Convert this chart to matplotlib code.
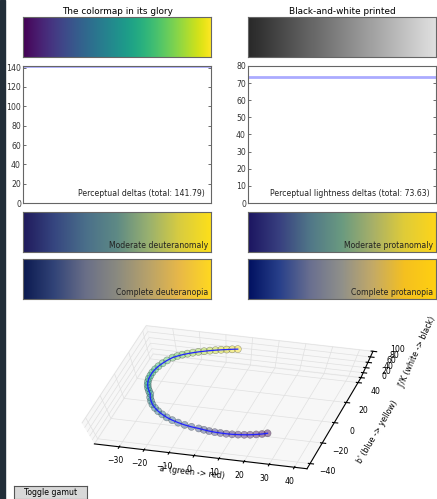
import matplotlib
matplotlib.use('Agg')
import matplotlib.pyplot as plt
import numpy as np
from matplotlib.colors import LinearSegmentedColormap
from matplotlib.patches import Rectangle
from matplotlib.widgets import Button
from mpl_toolkits.mplot3d import Axes3D  # noqa: F401

# --- Data ---
perceptual_total = 141.79
lightness_total = 73.63

gray_stops = ['#282828', '#e0e0e0']
deuteranomaly_stops = ['#201a5c', '#364680', '#4a6f8a', '#5e8a85', '#98b070', '#d8cc40', '#fddf1a']
protanomaly_stops = ['#1c1560', '#384080', '#517888', '#6a9a80', '#a8b068', '#e0cc38', '#fdd51a']
deuteranopia_stops = ['#0c1a50', '#324478', '#6a6f88', '#8a8a80', '#b8a26a', '#e8b848', '#ffd820']
protanopia_stops = ['#001060', '#28408a', '#6a7090', '#90908a', '#c4aa66', '#f5c020', '#ffd010']

Jp = [20.5, 22.0, 23.6, 25.1, 26.6, 28.2, 29.7, 31.2, 32.8, 34.3, 35.8, 37.4, 38.9,
      40.4, 42.0, 43.5, 45.0, 46.6, 48.1, 49.6, 51.2, 52.7, 54.2, 55.8, 57.3, 58.8,
      60.4, 61.9, 63.4, 65.0, 66.5, 68.0, 69.6, 71.1, 72.6, 74.2, 75.7, 77.2, 78.8,
      80.3, 81.8, 83.4, 84.9, 86.4, 88.0, 89.5, 91.0, 92.6, 94.1]
ap = [23.0, 21.2, 19.2, 17.1, 15.0, 12.8, 10.6, 8.4, 6.2, 4.0, 1.8, -0.3, -2.4,
      -5.3, -8.1, -10.9, -13.5, -16.0, -18.2, -20.3, -22.1, -23.7, -24.9, -25.9, -26.6, -27.6,
      -28.5, -29.2, -29.7, -30.0, -30.0, -29.9, -29.5, -28.9, -28.0, -26.9, -25.5, -24.0, -22.4,
      -20.7, -18.9, -17.0, -15.0, -13.0, -11.0, -9.0, -7.0, -5.0, -3.0]
bp = [-20.7, -22.2, -23.5, -24.7, -25.6, -26.4, -27.0, -27.4, -27.6, -27.7, -27.6, -27.3, -26.9,
      -26.5, -25.8, -24.7, -23.4, -21.8, -19.9, -17.8, -15.5, -13.0, -10.3, -7.6, -4.7, -2.6,
      -0.4, 1.9, 4.3, 6.9, 9.5, 12.1, 14.8, 17.5, 20.2, 22.8, 25.5, 27.0, 28.3,
      29.4, 30.4, 31.3, 32.1, 32.8, 33.4, 33.9, 34.3, 34.7, 35.0]

a_ticks = [-30, -20, -10, 0, 10, 20, 30, 40]
b_ticks = [-40, -20, 0, 20, 40]
J_ticks = [0, 20, 40, 60, 80, 100]

# --- Figure ---
fig = plt.figure(figsize=(4.37, 4.99), dpi=100)
fig.patches.append(Rectangle((0, 0), 5 / 437, 1, transform=fig.transFigure,
                             color='#222e39', zorder=-1))

fs = 5.6
spine_col = '#666666'
gradient = np.linspace(0, 1, 256)[None, :]

def bar_axes(rect, cmap, title=None, label=None):
    ax = fig.add_axes(rect)
    ax.imshow(gradient, aspect='auto', cmap=cmap)
    ax.set_xticks([])
    ax.set_yticks([])
    for s in ax.spines.values():
        s.set_color(spine_col)
        s.set_linewidth(0.8)
    if title:
        ax.set_title(title, fontsize=6.4, pad=2)
    if label:
        ax.text(0.985, 0.05, label, transform=ax.transAxes, ha='right', va='bottom',
                fontsize=fs, color='#222222')
    return ax

L1, L2, W = 23 / 437, 248 / 437, 188 / 437
bar_axes([L1, 0.886, W, 0.080], 'viridis', 'The colormap in its glory')
bar_axes([L2, 0.886, W, 0.080], LinearSegmentedColormap.from_list('g', gray_stops),
         'Black-and-white printed')
bar_axes([L1, 0.495, W, 0.080], LinearSegmentedColormap.from_list('d1', deuteranomaly_stops),
         label='Moderate deuteranomaly')
bar_axes([L2, 0.495, W, 0.080], LinearSegmentedColormap.from_list('p1', protanomaly_stops),
         label='Moderate protanomaly')
bar_axes([L1, 0.401, W, 0.079], LinearSegmentedColormap.from_list('d2', deuteranopia_stops),
         label='Complete deuteranopia')
bar_axes([L2, 0.401, W, 0.079], LinearSegmentedColormap.from_list('p2', protanopia_stops),
         label='Complete protanopia')

def delta_axes(rect, value, top, step, label):
    ax = fig.add_axes(rect)
    ax.plot([0, 1], [value, value], color='#8888ff', lw=2, alpha=0.7)
    ax.set_xlim(0, 1)
    ax.set_ylim(0, top)
    ax.set_yticks(np.arange(0, top + 0.01, step))
    ax.set_xticks([])
    ax.tick_params(axis='y', direction='in', labelsize=fs, length=2.5, width=0.5,
                   right=True, pad=1.5, colors='#333333')
    for s in ax.spines.values():
        s.set_color(spine_col)
        s.set_linewidth(0.8)
    ax.text(0.965, 0.035, label, transform=ax.transAxes, ha='right', va='bottom',
            fontsize=fs, color='#222222')
    return ax

delta_axes([L1, 0.593, W, 0.275], perceptual_total, perceptual_total, 20,
           'Perceptual deltas (total: %.2f)' % perceptual_total)
delta_axes([L2, 0.593, W, 0.275], lightness_total, 80, 10,
           'Perceptual lightness deltas (total: %.2f)' % lightness_total)

# --- 3D path ---
ax3 = fig.add_axes([0.018, 0.01, 1.0, 0.37], projection='3d')
ax3.patch.set_visible(False)
ax3.set_box_aspect((1.0, 1.0, 0.9), zoom=0.89)

# old-style 3D axes: projected cube stretched to fill the wide axes box
_proj = ax3.get_proj
def _stretched_proj():
    return np.diag([2.25, 1.0, 1.0, 1.0]) @ _proj()
ax3.get_proj = _stretched_proj

ax3.plot(ap, bp, Jp, color='#2222ff', lw=0.9, zorder=5)
ax3.scatter(ap, bp, Jp, c=plt.cm.viridis(np.linspace(0, 1, len(Jp))), s=26,
            edgecolors='#333333', linewidths=0.4, depthshade=True, alpha=0.45)
ax3.set_xlim(-40, 45)
ax3.set_ylim(-45, 45)
ax3.set_zlim(0, 100)
ax3.set_xticks(a_ticks)
ax3.set_yticks(b_ticks)
ax3.set_zticks(J_ticks)
ax3.view_init(elev=75, azim=-75)
ax3.tick_params(labelsize=fs, pad=-2)
ax3.set_xlabel("a' (green -> red)", fontsize=fs, labelpad=-11)
ax3.set_ylabel("b' (blue -> yellow)", fontsize=fs, labelpad=-6)
ax3.set_zlabel("J'/K (white -> black)", fontsize=fs, labelpad=-8)
for axis in (ax3.xaxis, ax3.yaxis, ax3.zaxis):
    axis.set_pane_color((0.95, 0.95, 0.95, 0.6))
    axis._axinfo['grid']['color'] = (0.88, 0.88, 0.88, 1)
    axis._axinfo['grid']['linewidth'] = 0.5

# --- Toggle button ---
bax = fig.add_axes([14 / 437, 0.0, 73 / 437, 0.027])
btn = Button(bax, 'Toggle gamut', color='#d8d8d8')
btn.label.set_fontsize(fs)
for s in bax.spines.values():
    s.set_color('#555555')
    s.set_linewidth(0.8)

plt.savefig('out.png', dpi=100)
